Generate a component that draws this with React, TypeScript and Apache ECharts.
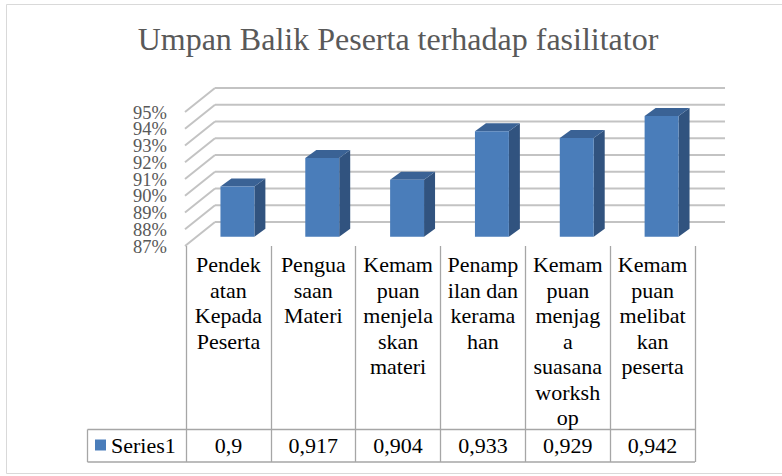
import { useEffect, useRef } from "react";
import * as echarts from "echarts";

const chartTitle = "Umpan Balik Peserta terhadap fasilitator";
const seriesName = "Series1";
const categories = [
  "Pendek\natan\nKepada\nPeserta",
  "Pengua\nsaan\nMateri",
  "Kemam\npuan\nmenjela\nskan\nmateri",
  "Penamp\nilan dan\nkerama\nhan",
  "Kemam\npuan\nmenjag\na\nsuasana\nworksh\nop",
  "Kemam\npuan\nmelibat\nkan\npeserta",
];
const values = [0.9, 0.917, 0.904, 0.933, 0.929, 0.942];
const yTicks = [0.87, 0.88, 0.89, 0.9, 0.91, 0.92, 0.93, 0.94, 0.95];

const FONT = "'Liberation Serif', 'Times New Roman', serif";
const WALL_DX = 30;
const WALL_DY = 24;
const BAR_DX = 9;
const BAR_DY = 9.3;
const SIDE_DX = 11;
const SIDE_DY = 8;
const FRONT = "#4a7dba";
const SIDE = "#31537f";
const TOP = "#3a6295";
const GRID_LINE = "#c3c3c3";
const TABLE_LINE = "#a6a6a6";

export default function App() {
  const ref = useRef<HTMLDivElement>(null);
  useEffect(() => {
    const chart = echarts.init(ref.current!, null, { renderer: "svg" });
    const option: any = {
      animation: false,
      backgroundColor: "#ffffff",
      grid: { left: 186, right: 87, top: 112, bottom: 230 },
      legend: {
        data: [seriesName],
        left: 95,
        top: 434,
        padding: 0,
        icon: "rect",
        itemWidth: 11,
        itemHeight: 11,
        selectedMode: false,
        textStyle: { fontFamily: FONT, fontSize: 22, color: "#000" },
      },
      xAxis: {
        type: "category",
        data: categories,
        axisLine: { show: false },
        axisTick: { show: true, length: 216, lineStyle: { color: TABLE_LINE, width: 1.3 } },
        axisLabel: {
          interval: 0,
          fontFamily: FONT,
          fontSize: 22,
          lineHeight: 25.5,
          color: "#000",
          margin: 6,
        },
        splitLine: { show: false },
      },
      yAxis: {
        type: "value",
        min: 0.87,
        max: 0.95,
        interval: 0.01,
        axisLine: { show: false },
        axisTick: { show: false },
        splitLine: { show: false },
        axisLabel: { show: false },
      },
      graphic: [
        {
          type: "rect",
          shape: { x: 6.5, y: 4.5, width: 800, height: 469 },
          style: { fill: "none", stroke: "#d9d9d9", lineWidth: 1 },
          silent: true,
        },
        {
          type: "text",
          x: 398,
          y: 39,
          style: {
            text: chartTitle,
            font: `32px ${FONT}`,
            fill: "#595959",
            textAlign: "center",
            textVerticalAlign: "middle",
          },
        },
        {
          type: "line",
          shape: { x1: 87.5, y1: 429.5, x2: 695, y2: 429.5 },
          style: { stroke: TABLE_LINE, lineWidth: 1.3 },
        },
        {
          type: "line",
          shape: { x1: 87.5, y1: 462, x2: 695, y2: 462 },
          style: { stroke: TABLE_LINE, lineWidth: 1.3 },
        },
        {
          type: "line",
          shape: { x1: 87.5, y1: 429.5, x2: 87.5, y2: 462 },
          style: { stroke: TABLE_LINE, lineWidth: 1.3 },
        },
      ],
      series: [
        {
          name: "walls",
          type: "custom",
          clip: false,
          silent: true,
          z: 1,
          data: yTicks.map((t) => [0, t]),
          renderItem: (params: any, api: any) => {
            const v = api.value(1);
            const cs = params.coordSys;
            const y = api.coord([0, v])[1];
            const x0 = cs.x - 1;
            const bx = x0 + WALL_DX;
            const by = y - WALL_DY;
            const style = { stroke: GRID_LINE, lineWidth: 2, fill: "none" };
            return {
              type: "group",
              children: [
                { type: "line", shape: { x1: x0, y1: y, x2: bx, y2: by }, style },
                { type: "line", shape: { x1: bx, y1: by, x2: bx + cs.width + 1, y2: by }, style },
                {
                  type: "text",
                  x: x0 - 18,
                  y: y + 0.5,
                  style: {
                    text: Math.round(v * 100) + "%",
                    font: `18.5px ${FONT}`,
                    fill: "#595959",
                    align: "right",
                    verticalAlign: "middle",
                    lineHeight: 16,
                  },
                },
              ],
            };
          },
        },
        {
          name: seriesName,
          type: "custom",
          clip: false,
          z: 3,
          itemStyle: { color: FRONT },
          data: values.map((v, i) => [i, v]),
          renderItem: (params: any, api: any) => {
            const i = api.value(0);
            const v = api.value(1);
            const top = api.coord([i, v]);
            const base = api.coord([i, yTicks[0]]);
            const w = api.size([1, 0])[0] * 0.4;
            const x0 = top[0] + BAR_DX - w / 2;
            const x1 = x0 + w;
            const yt = top[1] - BAR_DY;
            const yb = base[1] - BAR_DY;
            return {
              type: "group",
              children: [
                {
                  type: "polygon",
                  shape: { points: [[x1, yt], [x1 + SIDE_DX, yt - SIDE_DY], [x1 + SIDE_DX, yb - SIDE_DY], [x1, yb]] },
                  style: { fill: SIDE },
                },
                {
                  type: "polygon",
                  shape: { points: [[x0, yt], [x0 + SIDE_DX, yt - SIDE_DY], [x1 + SIDE_DX, yt - SIDE_DY], [x1, yt]] },
                  style: { fill: TOP },
                },
                {
                  type: "rect",
                  shape: { x: x0, y: yt, width: w, height: yb - yt },
                  style: { fill: FRONT },
                },
              ],
            };
          },
        },
        {
          name: "table",
          type: "custom",
          clip: false,
          silent: true,
          z: 4,
          data: values.map((v, i) => [i, v]),
          renderItem: (params: any, api: any) => {
            const i = api.value(0);
            const v = api.value(1);
            const x = api.coord([i, v])[0];
            return {
              type: "text",
              x,
              y: 445,
              style: {
                text: String(v).replace(".", ","),
                font: `22px ${FONT}`,
                fill: "#000",
                align: "center",
                verticalAlign: "middle",
              },
            };
          },
        },
      ],
    };
    chart.setOption(option);
    return () => chart.dispose();
  }, []);
  return (
    <div
      ref={ref}
      style={{ position: "absolute", left: 0, top: 0, width: 782, height: 476 }}
    />
  );
}
